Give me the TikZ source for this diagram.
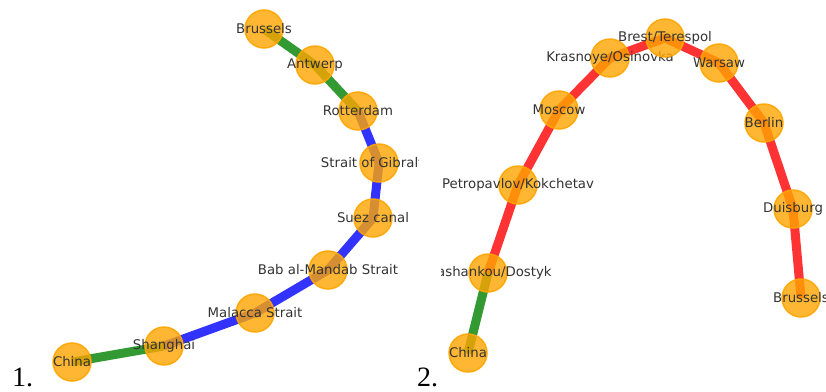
\documentclass[tikz,border=0pt]{standalone}
\usepackage{fontspec}
\usepackage{tikz}
\newfontfamily\stationfont{DejaVu Sans}
\newfontfamily\numfont{Liberation Serif}
\definecolor{stationorange}{RGB}{255,165,0}
\tikzstyle{station} = [circle, minimum size=38pt, inner sep=0pt, draw=stationorange, line width=1.5pt, fill=stationorange, fill opacity=0.8, draw opacity=0.9]
\tikzstyle{stationname} = [inner sep=0pt, text=black!80, font=\stationfont\fontsize{13.3}{15}\selectfont]
\tikzstyle{rail} = [line width=9pt, red, opacity=0.8, line join=round]
\tikzstyle{sea} = [line width=9pt, blue, opacity=0.8, line join=round]
\tikzstyle{road} = [line width=9pt, green!50!black, opacity=0.8, line join=round]
\tikzstyle{panelno} = [anchor=base west, inner sep=0pt, font=\numfont\fontsize{28}{30}\selectfont]

\begin{document}
\begin{tikzpicture}[x=1pt, y=-1pt]
            \useasboundingbox (0,0) rectangle (826,391);

            \begin{scope}
            \clip (0,0) rectangle (418,391);
            \coordinate (brussels1) at (264,29);
            \coordinate (antwerp1) at (315,65);
            \coordinate (rotterdam1) at (358,111);
            \coordinate (gibraltar1) at (379,163);
            \coordinate (suez1) at (373,218);
            \coordinate (mandab1) at (328,270);
            \coordinate (malacca1) at (255,313);
            \coordinate (shanghai1) at (164,346);
            \coordinate (china1) at (72,362);

            \draw [road] (china1) -- (shanghai1);
            \draw [sea] (shanghai1) -- (malacca1) -- (mandab1) -- (suez1) -- (gibraltar1) -- (rotterdam1);
            \draw [road] (rotterdam1) -- (antwerp1) -- (brussels1);

            \node [station, label={[stationname]center:Brussels}] at (brussels1) (nbrussels1) {};
            \node [station, label={[stationname]center:Antwerp}] at (antwerp1) (nantwerp1) {};
            \node [station, label={[stationname]center:Rotterdam}] at (rotterdam1) (nrotterdam1) {};
            \node [station, label={[stationname]center:Strait of Gibraltar}] at (gibraltar1) (ngibraltar1) {};
            \node [station, label={[stationname]center:Suez canal}] at (suez1) (nsuez1) {};
            \node [station, label={[stationname]center:Bab al-Mandab Strait}] at (mandab1) (nmandab1) {};
            \node [station, label={[stationname]center:Malacca Strait}] at (malacca1) (nmalacca1) {};
            \node [station, label={[stationname]center:Shanghai}] at (shanghai1) (nshanghai1) {};
            \node [station, label={[stationname]center:China}] at (china1) (nchina1) {};
            \end{scope}

            \begin{scope}
            \clip (441,0) rectangle (826,391);
            \coordinate (china2) at (468,353);
            \coordinate (dostyk2) at (488,273);
            \coordinate (kokchetav2) at (518,185);
            \coordinate (moscow2) at (559,110);
            \coordinate (osinovka2) at (610,58);
            \coordinate (terespol2) at (665,38);
            \coordinate (warsaw2) at (719,63);
            \coordinate (berlin2) at (764,123);
            \coordinate (duisburg2) at (793,209);
            \coordinate (brussels2) at (801,298);

            \draw [road] (china2) -- (dostyk2);
            \draw [rail] (dostyk2) -- (kokchetav2) -- (moscow2) -- (osinovka2) -- (terespol2) -- (warsaw2) -- (berlin2) -- (duisburg2) -- (brussels2);

            \node [station, label={[stationname]center:China}] at (china2) (nchina2) {};
            \node [station, label={[stationname]center:Alashankou/Dostyk}] at (dostyk2) (ndostyk2) {};
            \node [station, label={[stationname]center:Petropavlov/Kokchetav}] at (kokchetav2) (nkokchetav2) {};
            \node [station, label={[stationname]center:Moscow}] at (moscow2) (nmoscow2) {};
            \node [station, label={[stationname]center:Krasnoye/Osinovka}] at (osinovka2) (nosinovka2) {};
            \node [station, label={[stationname]center:Brest/Terespol}] at (terespol2) (nterespol2) {};
            \node [station, label={[stationname]center:Warsaw}] at (warsaw2) (nwarsaw2) {};
            \node [station, label={[stationname]center:Berlin}] at (berlin2) (nberlin2) {};
            \node [station, label={[stationname]center:Duisburg}] at (duisburg2) (nduisburg2) {};
            \node [station, label={[stationname]center:Brussels}] at (brussels2) (nbrussels2) {};
            \end{scope}

            \node [panelno] at (12,386) (panel1) {1.};
            \node [panelno] at (417,386) (panel2) {2.};
\end{tikzpicture}
\end{document}
